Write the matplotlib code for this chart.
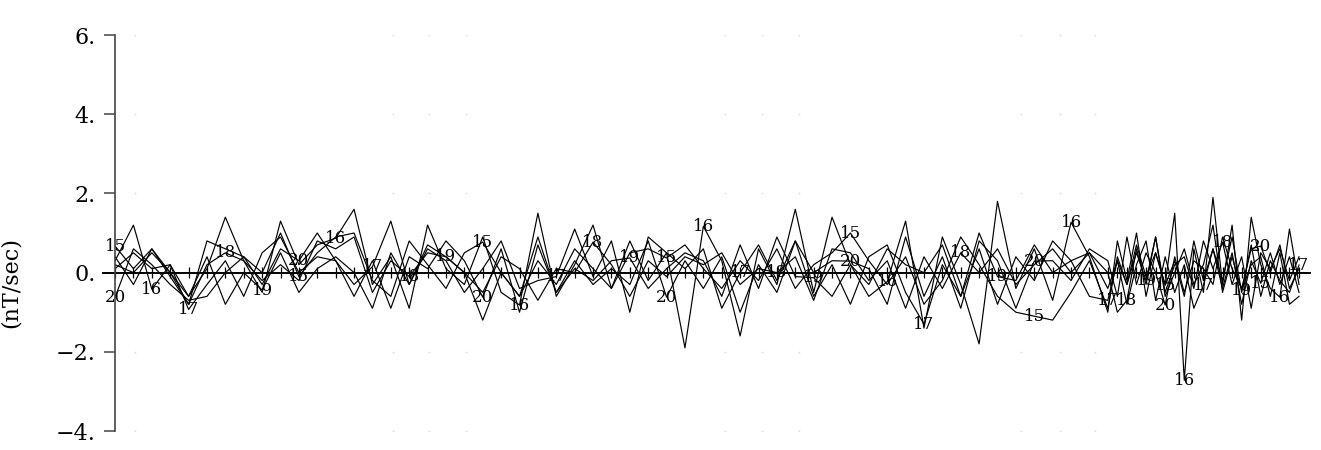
import matplotlib
matplotlib.use("Agg")
import matplotlib.pyplot as plt

# sample positions (time index); the last part is sampled twice as densely
t = list(range(55)) + [54.52, 55.04, 55.56, 56.08, 56.6, 57.12, 57.64, 58.16, 58.68, 59.2,
                       59.72, 60.24, 60.76, 61.28, 61.8, 62.32, 62.84, 63.36, 63.88, 64.4]

s15 = [0.67, 0.1, 0.6, 0.0, -0.8, 0.8, 0.6, 0.4, 0.0, 1.0,
       -0.1, 0.5, 0.9, 1.0, -0.2, -0.6, 0.8, 0.2, -0.4, 0.5,
       0.77, 0.0, -0.6, 0.3, -0.3, 0.6, 0.1, -0.4, 0.5, 0.6,
       0.37, 0.7, 0.1, -0.4, 0.3, -0.2, 0.6, -0.4, 0.2, 0.5,
       1.0, 0.3, -0.3, 0.4, -0.8, -0.2, 0.9, 0.2, -0.6, -1.0,
       -1.1, -1.2, -0.5, 0.3, -0.9, 0.4, -0.3, 0.7, -0.1, 0.5,
       -0.32, 0.3, -0.6, 0.8, -0.2, 0.6, -0.4, 0.5, -0.8, 0.3,
       -0.27, 0.5, -0.3, 0.4, -0.5]
s16 = [0.3, 1.2, -0.42, 0.2, -0.6, 0.1, 1.4, 0.3, -0.5, 1.3,
       0.2, 0.7, 0.87, 1.6, -0.3, 0.4, -0.9, 1.2, 0.1, -0.3,
       0.9, -0.5, -0.82, 1.5, -0.6, 0.2, 1.2, -0.4, 0.8, -0.2,
       0.5, -1.9, 1.17, 0.3, -1.6, 0.6, -0.3, 1.6, -0.5, 1.4,
       0.2, -0.6, -0.23, 1.3, -1.4, 0.9, -0.3, -1.8, 1.8, -0.4,
       0.6, -0.7, 1.27, 0.4, -1.0, 0.8, -0.2, 1.0, -0.6, 0.5,
       -0.3, 1.5, -2.72, 0.6, -0.5, 1.9, -0.3, 1.2, -1.2, 1.4,
       0.2, -0.4, -0.62, 1.1, -0.3]
s17 = [0.1, 0.5, 0.1, 0.2, -0.93, -0.3, 0.3, -0.6, 0.5, 0.9,
       0.0, 0.4, 0.3, -0.3, 0.15, 1.3, -0.3, 0.6, 0.3, -0.5,
       0.1, 0.8, -0.4, -0.2, -0.1, 1.1, -0.1, 0.8, -1.0, 0.9,
       0.5, 0.1, 0.6, -0.9, 0.0, 0.7, -0.2, 0.8, -0.6, 0.2,
       -0.8, 0.4, 0.7, -0.5, -1.3, 0.2, -0.6, 0.6, -0.8, 0.4,
       -0.2, 0.8, 0.3, -0.6, -0.7, 0.3, -0.8, 0.2, 0.8, -0.7,
       0.4, -0.5, 0.2, -0.9, -0.32, 0.6, -0.2, 0.9, -0.5, 0.7,
       -0.6, 0.3, -0.2, -0.5, 0.19]
s18 = [0.4, -0.3, 0.6, -0.1, -0.8, 0.2, 0.5, 0.3, -0.2, 0.2,
       -0.2, 0.8, 0.6, 0.9, -0.5, 0.3, -0.1, 0.5, 0.4, 0.0,
       -0.5, 0.4, 0.1, -0.7, 0.1, 0.0, 0.77, 0.2, -0.6, 0.3,
       -0.1, 0.4, 0.2, 0.5, -0.3, 0.1, 0.0, 0.4, -0.7, 0.6,
       0.5, -0.2, 0.3, -0.9, 0.4, -0.4, 0.5, 0.0, 0.6, -0.3,
       0.2, 0.6, 0.0, 0.5, 0.0, -1.0, -0.7, 0.6, -0.3, 0.9,
       -0.5, 0.2, 0.4, -0.4, 0.8, 0.1, 0.77, -0.3, 0.4, -0.9,
       0.5, 0.1, 0.6, -0.2, 0.4]
s19 = [0.2, 0.0, 0.5, 0.0, -0.6, 0.4, -0.8, 0.0, -0.44, 0.5,
       -0.5, 0.1, 0.4, 0.0, -0.9, 0.5, -0.3, 0.7, 0.4, 0.0,
       -1.2, 0.0, -0.6, 0.9, -0.5, 0.1, -0.2, 0.3, 0.37, -0.4,
       0.1, 0.5, 0.3, -0.6, 0.7, -0.4, 0.9, -0.1, -0.13, -0.6,
       0.2, -0.3, 0.6, 0.2, 0.0, 0.7, -0.6, 1.0, -0.1, -0.2,
       0.7, 0.0, 0.3, 0.5, -0.4, 0.3, -0.3, 0.5, -0.2, 0.9,
       -0.6, 0.0, 0.6, -0.3, 0.2, 1.2, -0.5, 0.4, -0.44, 0.2,
       0.4, -0.6, 0.5, -0.8, -0.6]
s20 = [-0.62, 0.6, 0.2, -0.3, -0.7, -0.6, 0.0, 0.4, -0.3, 0.6,
       0.3, 1.0, 0.3, -0.6, 0.3, -0.9, 0.4, 0.1, 0.8, 0.3,
       -0.62, 0.6, -1.0, 0.7, -0.5, 0.3, -0.3, 0.1, -0.3, 0.8,
       -0.62, 0.3, -0.4, 0.4, -1.0, 0.2, -0.5, 0.8, 0.0, 0.3,
       0.29, 0.1, -0.8, 0.9, -0.6, 0.4, -0.9, 0.8, 0.3, -0.9,
       0.29, 0.3, -0.2, 0.6, 0.3, -0.6, 0.9, -0.3, 0.5, 0.0,
       -0.82, 0.4, -0.5, 0.3, 0.1, -0.3, 0.9, 0.1, -0.4, 0.6,
       0.67, 0.0, 0.7, -0.4, 0.1]

series = {"15": s15, "16": s16, "17": s17, "18": s18, "19": s19, "20": s20}
# sample indices where each curve carries its number
label_at = {"15": [0, 10, 20, 30, 40, 50, 60, 70],
            "16": [2, 12, 22, 32, 42, 52, 62, 72],
            "17": [4, 14, 24, 34, 44, 54, 64, 74],
            "18": [6, 16, 26, 36, 46, 56, 66],
            "19": [8, 18, 28, 38, 48, 58, 68],
            "20": [0, 10, 20, 30, 40, 50, 60, 70]}

yticks = [-4, -2, 0, 2, 4, 6]
ytick_labels = ["\u22124.", "\u22122.", "0.", "2.", "4.", "6."]
grid_x = [1.1, 15.1, 17.1, 19.1, 33.2, 35.2, 37.2, 49.3, 51.4, 53.3]
grid_y = [-4, -2, 2, 4, 6]

plt.rcParams["font.family"] = ["DejaVu Serif"]

fig = plt.figure(figsize=(13.21, 4.5), dpi=100)
ax = fig.add_axes([0.0871, 0.0422, 0.9046, 0.88])

for gx in grid_x:
    ax.scatter([gx] * len(grid_y), grid_y, s=1.5, color="#d8d8d8", lw=0)

for name, vals in series.items():
    ax.plot(t, vals, color="black", lw=0.85)
    for i in label_at[name]:
        ax.text(t[i], vals[i], name, ha="center", va="center", fontsize=12)

# zero line with a tick at every sample
ax.plot([-0.65, 65], [0, 0], color="black", lw=1.4, clip_on=False)
ax.vlines(t, -0.13, 0.13, color="black", lw=0.9)

ax.set_xlim(0, 65)
ax.set_ylim(-4, 6)
ax.set_yticks(yticks)
ax.set_yticklabels(ytick_labels, fontsize=16)
ax.tick_params(axis="y", direction="out", length=8, width=1.1, color="#444", pad=6)
ax.set_xticks([])
for side in ["top", "right", "bottom"]:
    ax.spines[side].set_visible(False)
ax.spines["left"].set_color("#444")
ax.spines["left"].set_linewidth(1.2)

fig.text(0.008, 0.373, "(nT/sec)", rotation=90, ha="center", va="center", fontsize=16)

fig.savefig("out.png", dpi=100)
